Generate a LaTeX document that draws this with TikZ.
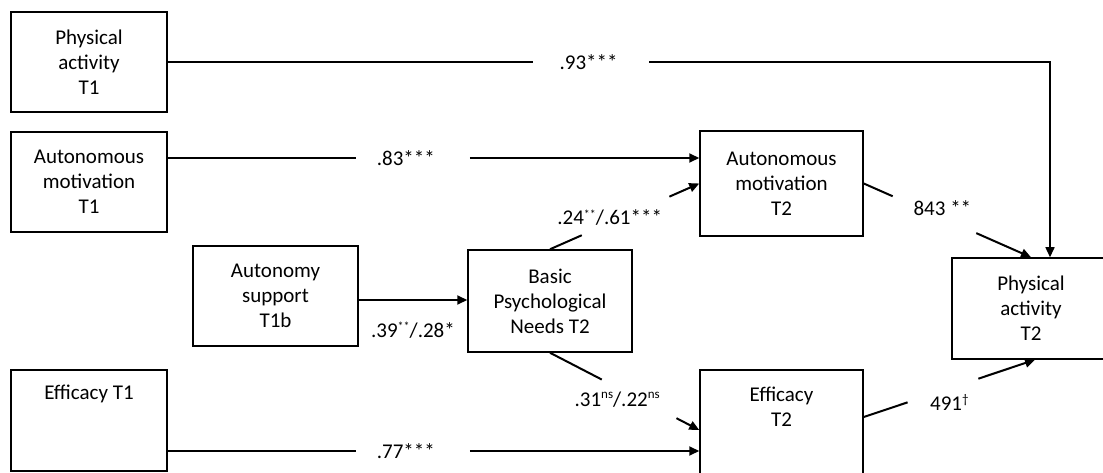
\documentclass[tikz,border=0pt]{standalone}
\usepackage{fontspec}
\setmainfont{Carlito}
\usetikzlibrary{arrows.meta,calc}
\newcommand{\supx}[1]{\raisebox{0.3em}{\fontsize{12}{12}\selectfont #1}}
\newcommand{\supns}[1]{\raisebox{0.36em}{\fontsize{13}{13}\selectfont #1}}
\begin{document}
\begin{tikzpicture}[x=1pt,y=-1pt,
  box/.style={draw,line width=1.5pt,align=center,inner sep=0pt,font=\fontsize{21}{25}\selectfont},
  seg/.style={line width=2pt},
  thin seg/.style={line width=1.5pt},
  arr/.style={line width=2pt,-{Triangle[length=10pt,width=9pt]}},
  lbl/.style={font=\fontsize{21}{25}\selectfont,inner sep=0pt}]
\clip (0,0) rectangle (1103,473);
\fill[white] (0,0) rectangle (1103,473);

% boxes
\node[box,minimum width=156pt,minimum height=100pt] (pa1) at (89,62) {Physical\\activity\\T1};
\node[box,minimum width=156pt,minimum height=100pt] (am1) at (89,182) {Autonomous\\motivation\\T1};
\node[box,minimum width=165pt,minimum height=100pt] (as) at (275.5,296) {Autonomy\\support\\T1b};
\node[box,minimum width=156pt,minimum height=101pt] (ef1) at (89,420.5) {Efficacy T1\\\strut\\\strut};
\node[box,minimum width=164pt,minimum height=102pt] (bpn) at (550,301) {Basic\\Psychological\\Needs T2};
\node[box,minimum width=163pt,minimum height=105pt] (am2) at (781.5,183.5) {Autonomous\\motivation\\T2};
\node[box,minimum width=158pt,minimum height=101pt] (pa2) at (1031,308.5) {Physical\\activity\\T2};
\node[box,minimum width=163pt,minimum height=106pt] (ef2) at (781.5,423) {Efficacy\\T2\\\strut};

% PA T1 -> PA T2
\coordinate (pain) at ($(pa2.north)+(19,0)$);
\coordinate (pacorner) at (pa1.east -| pain);
\draw[thin seg] (pa1.east) -- ($(pa1.east)!0.4145!(pacorner)$);
\draw[thin seg,-{Triangle[length=10pt,width=9pt]}] ($(pa1.east)!0.546!(pacorner)$) -- (pacorner) -- (pain);
\node[lbl] (l93) at ($(pa1.east)!0.477!(pacorner)$) {.93***};

% AM T1 -> AM T2
\coordinate (amout) at ($(am1.east)+(0,-24)$);
\coordinate (amin) at (amout -| am2.west);
\draw[seg] (amout) -- ($(amout)!0.3546!(amin)$);
\draw[arr] ($(amout)!0.5685!(amin)$) -- (amin);
\node[lbl] (l83) at ($(amout)!0.448!(amin)$) {.83***};

% Eff T1 -> Eff T2
\coordinate (efout) at ($(ef1.east)+(0,30.5)$);
\coordinate (efin) at (efout -| ef2.west);
\draw[seg] (efout) -- ($(efout)!0.3546!(efin)$);
\draw[arr] ($(efout)!0.5685!(efin)$) -- (efin);
\node[lbl] (l77) at ($(efout)!0.448!(efin)$) {.77***};

% AS -> BPN
\coordinate (asout) at ($(as.east)+(0,4)$);
\coordinate (bpnin) at (asout -| bpn.west);
\draw[arr] (asout) -- (bpnin);
\node[lbl] (l39) at ($(asout)!0.5!(bpnin)+(0,30)$) {.39\supx{**}/.28*};

% BPN -> AM T2
\draw[seg] (bpn.north) -- ($(bpn.north)!0.213!(am2.west)$);
\draw[arr] ($(bpn.north)!0.8!(am2.west)$) -- (am2.west);
\node[lbl] (l24) at ($(bpn.north)!0.4!(am2.west)+(0,-5)$) {.24\supx{**}/.61***};

% BPN -> Eff T2
\coordinate (ef2in) at ($(ef2.west)+(0,7)$);
\draw[seg] (bpn.south) -- ($(bpn.south)!0.347!(ef2in)$);
\draw[arr] ($(bpn.south)!0.847!(ef2in)$) -- (ef2in);
\node[lbl] (l31) at ($(bpn.south)!0.45!(ef2in)+(0,12)$) {.31\supns{ns}/.22\supns{ns}};

% AM T2 -> PA T2
\draw[seg] (am2.east) -- ($(am2.east)!0.173!(pa2.north)$);
\draw[arr] ($(am2.east)!0.673!(pa2.north)$) -- (pa2.north);
\node[lbl] (l843) at ($(am2.east)!0.47!(pa2.north)+(0,-10)$) {843 **};

% Eff T2 -> PA T2
\coordinate (ef2out) at ($(ef2.east)+(0,-6)$);
\coordinate (pa2in) at ($(pa2.south)+(4,0)$);
\draw[seg] (ef2out) -- ($(ef2out)!0.256!(pa2in)$);
\draw[arr] ($(ef2out)!0.669!(pa2in)$) -- (pa2in);
\node[lbl] (l491) at ($(ef2out)!0.5!(pa2in)+(0,14)$) {491\supns{\dag}};
\end{tikzpicture}
\end{document}
